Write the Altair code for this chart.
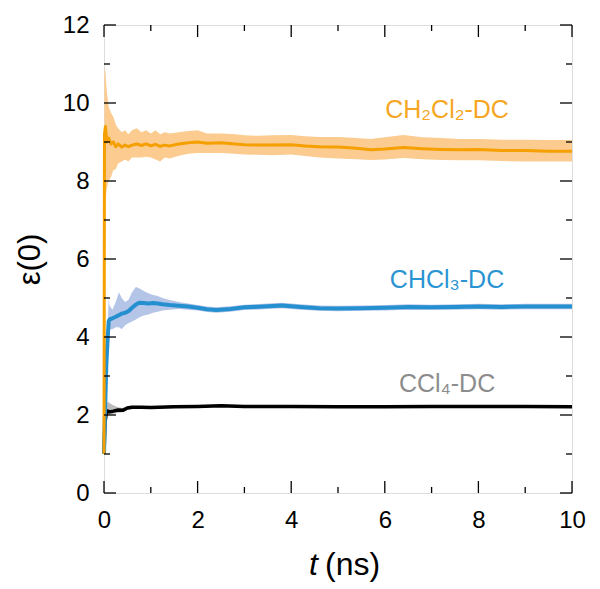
import altair as alt
import pandas as pd

# ---------------- data ----------------
# CH2Cl2-DC
t_ch2 = [0.0, 0.01, 0.03, 0.06, 0.1, 0.15, 0.2, 0.25, 0.3, 0.38, 0.45, 0.52, 0.6, 0.7, 0.8, 0.9,
         1.0, 1.1, 1.2, 1.3, 1.4, 1.6, 1.8, 2.0, 2.2, 2.5, 2.8, 3.0, 3.3, 3.6, 4.0, 4.3, 4.6,
         5.0, 5.4, 5.7, 6.0, 6.4, 6.8, 7.2, 7.6, 8.0, 8.5, 9.0, 9.5, 10.0]
m_ch2 = [1.0, 9.2, 9.4, 9.0, 9.1, 8.95, 9.0, 8.88, 8.95, 8.87, 8.92, 8.88, 8.92, 8.95, 8.91, 8.95,
         8.9, 8.94, 8.89, 8.92, 8.9, 8.95, 8.98, 9.0, 8.97, 8.98, 8.95, 8.93, 8.92, 8.92, 8.93, 8.9, 8.88,
         8.87, 8.84, 8.8, 8.82, 8.86, 8.83, 8.81, 8.8, 8.81, 8.78, 8.78, 8.76, 8.76]
lo_ch2 = [1.0, 7.4, 7.5, 7.8, 8.0, 8.1, 8.28, 8.3, 8.45, 8.5, 8.55, 8.5, 8.6, 8.6, 8.6, 8.62,
          8.6, 8.55, 8.5, 8.6, 8.58, 8.65, 8.7, 8.72, 8.72, 8.72, 8.7, 8.68, 8.67, 8.66, 8.68, 8.64, 8.6,
          8.58, 8.56, 8.54, 8.55, 8.59, 8.56, 8.54, 8.53, 8.53, 8.51, 8.5, 8.5, 8.5]
hi_ch2 = [1.0, 10.9, 10.8, 10.3, 9.9, 9.75, 9.64, 9.45, 9.35, 9.25, 9.3, 9.2, 9.3, 9.35, 9.25, 9.3,
          9.22, 9.3, 9.2, 9.25, 9.22, 9.25, 9.28, 9.3, 9.22, 9.22, 9.2, 9.17, 9.16, 9.17, 9.18, 9.15, 9.13,
          9.13, 9.1, 9.08, 9.12, 9.18, 9.12, 9.1, 9.08, 9.08, 9.06, 9.06, 9.05, 9.05]

# CHCl3-DC
t_chc = [0.0, 0.02, 0.05, 0.08, 0.1, 0.12, 0.18, 0.25, 0.32, 0.38, 0.45, 0.52, 0.6, 0.68, 0.75,
         0.85, 0.95, 1.05, 1.15, 1.25, 1.4, 1.6, 1.8, 2.0, 2.2, 2.4, 2.7, 3.0, 3.4, 3.8, 4.2, 4.6,
         5.0, 5.5, 6.0, 6.5, 7.0, 7.5, 8.0, 8.5, 9.0, 9.5, 10.0]
m_chc = [1.0, 2.0, 3.3, 4.0, 4.4, 4.45, 4.48, 4.52, 4.56, 4.6, 4.62, 4.66, 4.75, 4.83, 4.88,
         4.87, 4.86, 4.87, 4.86, 4.84, 4.82, 4.8, 4.78, 4.75, 4.71, 4.69, 4.72, 4.76, 4.78, 4.81, 4.77, 4.74,
         4.73, 4.74, 4.75, 4.77, 4.76, 4.77, 4.78, 4.77, 4.78, 4.78, 4.78]
lo_chc = [1.0, 1.9, 3.1, 3.8, 4.1, 4.2, 4.2, 4.25, 4.25, 4.2, 4.3, 4.35, 4.4, 4.45, 4.5,
          4.55, 4.58, 4.62, 4.65, 4.68, 4.7, 4.72, 4.7, 4.68, 4.64, 4.62, 4.65, 4.69, 4.71, 4.74, 4.7, 4.67,
          4.66, 4.67, 4.68, 4.7, 4.69, 4.7, 4.71, 4.7, 4.71, 4.71, 4.71]
hi_chc = [1.0, 2.1, 3.5, 4.3, 5.0, 4.8, 4.7, 4.9, 5.15, 5.0, 4.9, 4.95, 5.15, 5.28, 5.25,
          5.18, 5.12, 5.08, 5.05, 5.0, 4.95, 4.9, 4.86, 4.82, 4.78, 4.76, 4.79, 4.83, 4.85, 4.88, 4.84, 4.81,
          4.8, 4.81, 4.82, 4.84, 4.83, 4.84, 4.85, 4.84, 4.85, 4.85, 4.85]

# CCl4-DC
t_ccl = [0.0, 0.02, 0.05, 0.08, 0.12, 0.2, 0.3, 0.4, 0.5, 0.6, 0.8, 1.0, 1.5, 2.0, 2.5, 3.0,
         4.0, 5.0, 6.0, 7.0, 8.0, 9.0, 10.0]
m_ccl = [1.0, 1.8, 2.05, 2.1, 2.08, 2.1, 2.13, 2.12, 2.18, 2.2, 2.2, 2.19, 2.21, 2.22, 2.24, 2.22,
         2.22, 2.21, 2.21, 2.22, 2.22, 2.22, 2.21]
lo_ccl = [1.0, 1.7, 1.95, 2.0, 2.0, 2.03, 2.06, 2.07, 2.13, 2.16, 2.17, 2.16, 2.18, 2.19, 2.21, 2.19,
          2.19, 2.18, 2.18, 2.19, 2.19, 2.19, 2.18]
hi_ccl = [1.0, 1.9, 2.2, 2.35, 2.3, 2.25, 2.2, 2.18, 2.23, 2.24, 2.23, 2.22, 2.24, 2.25, 2.27, 2.25,
          2.25, 2.24, 2.24, 2.25, 2.25, 2.25, 2.24]

# annotations
label_text = ["CH\u2082Cl\u2082-DC", "CHCl\u2083-DC", "CCl\u2084-DC"]
label_t = [7.33, 7.33, 7.33]
label_v = [9.62, 5.26, 2.59]

x_major = [0, 2, 4, 6, 8, 10]
x_minor = [1, 3, 5, 7, 9]
y_major = [0, 2, 4, 6, 8, 10, 12]
y_minor = [1, 3, 5, 7, 9, 11]

# ---------------- chart ----------------
W, H = 468, 468
FONT = "Liberation Sans"
ORANGE, ORANGE_BAND, ORANGE_TXT = "#F5A000", "#FBCB8F", "#F5A623"
BLUE, BLUE_BAND, BLUE_TXT = "#2490D0", "#B5C5E8", "#2A94D2"
BLACK, GREY_BAND, GREY_TXT = "#000000", "#BDBDBD", "#8C8C8C"

xs = alt.Scale(domain=[0, 10], nice=False, zero=False)
ys = alt.Scale(domain=[0, 12], nice=False, zero=False)

def df(t, m, lo, hi):
    return pd.DataFrame({"t": t, "m": m, "lo": lo, "hi": hi})

d_ch2 = df(t_ch2, m_ch2, lo_ch2, hi_ch2)
d_chc = df(t_chc, m_chc, lo_chc, hi_chc)
d_ccl = df(t_ccl, m_ccl, lo_ccl, hi_ccl)

x_enc = alt.X("t:Q", scale=xs, title=None,
              axis=alt.Axis(values=x_major, ticks=False, domain=False, grid=False,
                            labelFontSize=24, labelFont=FONT, labelColor="black",
                            labelPadding=15, labelFlush=False))
y_axis = alt.Axis(values=y_major, ticks=False, domain=False, grid=False,
                  labelFontSize=24, labelFont=FONT, labelColor="black", labelPadding=15,
                  labelFlush=False, title="ε(0)", titleFontSize=31, titleFont=FONT,
                  titleFontWeight="normal", titleColor="black", titlePadding=16)

def band(d, color):
    return alt.Chart(d).mark_area(color=color, opacity=1).encode(
        x=x_enc, y=alt.Y("lo:Q", scale=ys, axis=y_axis), y2="hi:Q")

def line(d, color, w):
    return alt.Chart(d).mark_line(color=color, strokeWidth=w, strokeJoin="round").encode(
        x=alt.X("t:Q", scale=xs), y=alt.Y("m:Q", scale=ys))

def xticks(vals, ln):
    d = pd.DataFrame({"t": vals})
    b = alt.Chart(d).mark_rule(color="black", strokeWidth=1.3).encode(
        x=alt.X("t:Q", scale=xs), y=alt.value(H), y2=alt.value(H - ln))
    t = alt.Chart(d).mark_rule(color="black", strokeWidth=1.3).encode(
        x=alt.X("t:Q", scale=xs), y=alt.value(0), y2=alt.value(ln))
    return b + t

def yticks(vals, ln):
    d = pd.DataFrame({"v": vals})
    l = alt.Chart(d).mark_rule(color="black", strokeWidth=1.3).encode(
        y=alt.Y("v:Q", scale=ys), x=alt.value(0), x2=alt.value(ln))
    r = alt.Chart(d).mark_rule(color="black", strokeWidth=1.3).encode(
        y=alt.Y("v:Q", scale=ys), x=alt.value(W), x2=alt.value(W - ln))
    return l + r

labels_df = pd.DataFrame({"text": label_text, "t": label_t, "v": label_v,
                          "c": [ORANGE_TXT, BLUE_TXT, GREY_TXT]})
labels = alt.Chart(labels_df).mark_text(font=FONT, fontSize=25, align="center",
                                        baseline="alphabetic").encode(
    x=alt.X("t:Q", scale=xs), y=alt.Y("v:Q", scale=ys), text="text:N",
    color=alt.Color("c:N", scale=None))

title_df = pd.DataFrame({"a": [0]})
t_italic = alt.Chart(title_df).mark_text(text="t", font=FONT, fontSize=32, fontStyle="italic",
                                         align="right", baseline="alphabetic", color="black").encode(
    x=alt.value(214), y=alt.value(550))
t_rest = alt.Chart(title_df).mark_text(text="(ns)", font=FONT, fontSize=32,
                                       align="left", baseline="alphabetic", color="black").encode(
    x=alt.value(221), y=alt.value(550))

chart = alt.layer(
    band(d_ch2, ORANGE_BAND), band(d_chc, BLUE_BAND), band(d_ccl, GREY_BAND),
    line(d_ccl, BLACK, 3.5), line(d_chc, BLUE, 4), line(d_ch2, ORANGE, 3),
    xticks(x_major, 12), xticks(x_minor, 6), yticks(y_major, 12), yticks(y_minor, 6),
    labels, t_italic, t_rest,
).properties(
    width=W, height=H,
    autosize=alt.AutoSizeParams(type="none"),
    padding={"left": 96, "top": 17, "right": 20, "bottom": 90},
).configure_view(stroke="#222222", strokeWidth=1.5).configure(background="white")

chart.save("out.html", embed_options={"renderer": "svg", "actions": False})
